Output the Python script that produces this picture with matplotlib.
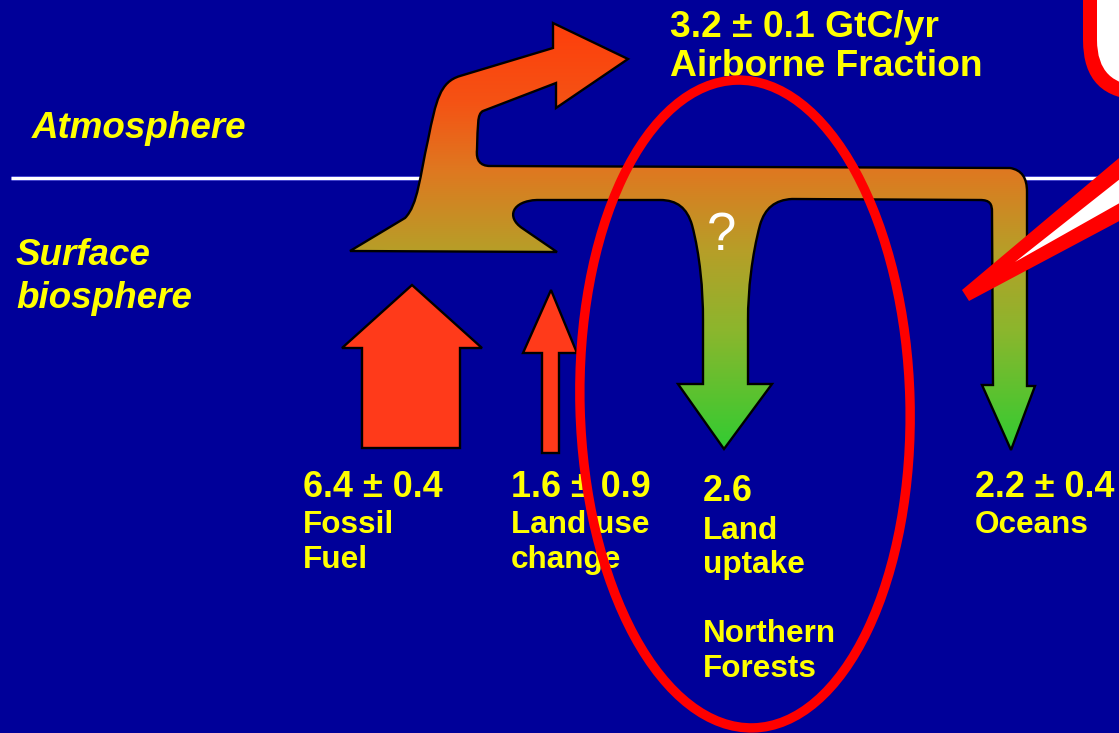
import numpy as np
import matplotlib
matplotlib.use("Agg")
import matplotlib.pyplot as plt
from matplotlib.path import Path
from matplotlib.patches import PathPatch, Polygon, Ellipse, FancyBboxPatch

# ---------------- data ----------------
flux_names = ["Fossil\nFuel", "Land use\nchange", "Land\nuptake\n\nNorthern\nForests", "Oceans"]
flux_values = [6.4, 1.6, 2.6, 2.2]
flux_errors = [0.4, 0.9, None, 0.4]
airborne_value = 3.2
airborne_error = 0.1
airborne_unit = "GtC/yr"
airborne_label = "Airborne Fraction"
layer_labels = ["Atmosphere", "Surface\nbiosphere"]

# ---------------- style / layout ----------------
BG = "#000099"
YEL = "#ffff00"
W, H = 1119, 733
plt.rcParams["font.family"] = ["Liberation Sans", "DejaVu Sans"]

fig = plt.figure(figsize=(W / 100, H / 100), dpi=100)
ax = fig.add_axes([0, 0, 1, 1])
ax.set_xlim(0, W)
ax.set_ylim(H, 0)
ax.set_aspect("auto")
ax.axis("off")
fig.patch.set_facecolor(BG)
ax.set_facecolor(BG)

# boundary line
ax.plot([11, W], [178, 178], color="white", lw=2.2, zorder=1, solid_capstyle="butt")
ax.plot([11, W], [178, 178], color="#8080ff", lw=3.6, zorder=0.9, alpha=0.5, solid_capstyle="butt")

# ---------------- main flow shape ----------------
M, L, C, Z = Path.MOVETO, Path.LINETO, Path.CURVE4, Path.CLOSEPOLY
segs = [
    (M, [(350, 251)]),
    (L, [(405, 218)]),
    (C, [(418, 205), (420, 175), (428, 140)]),
    (C, [(436, 100), (440, 82), (460, 76)]),
    (L, [(553, 48)]),
    (L, [(553, 23)]),
    (L, [(628, 59)]),
    (L, [(556, 108)]),
    (L, [(556, 83)]),
    (L, [(483, 111)]),
    (C, [(477, 114), (478, 125), (477, 150)]),
    (C, [(476, 160), (480, 166), (490, 166)]),
    (L, [(1010, 168)]),
    (C, [(1022, 170), (1027, 178), (1027, 192)]),
    (L, [(1027, 386)]),
    (L, [(1035, 386)]),
    (L, [(1011, 450)]),
    (L, [(982, 385)]),
    (L, [(993, 385)]),
    (L, [(992, 212)]),
    (C, [(992, 204), (990, 200), (980, 200)]),
    (L, [(792, 199)]),
    (C, [(775, 200), (765, 208), (760, 225)]),
    (C, [(752, 255), (748, 290), (748, 320)]),
    (L, [(748, 384)]),
    (L, [(772, 384)]),
    (L, [(724, 449)]),
    (L, [(678, 384)]),
    (L, [(703, 384)]),
    (L, [(703, 320)]),
    (C, [(703, 290), (700, 255), (692, 225)]),
    (C, [(687, 208), (677, 200), (660, 200)]),
    (L, [(537, 200)]),
    (C, [(512, 201), (506, 217), (522, 228)]),
    (L, [(557, 252)]),
    (L, [(350, 251)]),
    (Z, [(350, 251)]),
]
verts, codes = [], []
for code, pts in segs:
    for p in pts:
        verts.append(p)
        codes.append(code)
flow_path = Path(verts, codes)
flow_patch = PathPatch(flow_path, facecolor="none", edgecolor="black", lw=1.7, zorder=4)
ax.add_patch(flow_patch)

# vertical gradient clipped to the flow shape
gy = np.array([15, 100, 170, 250, 330, 455])
gc = np.array([
    [255, 60, 10],
    [245, 82, 20],
    [223, 120, 32],
    [183, 158, 40],
    [140, 182, 45],
    [45, 205, 50],
]) / 255.0
ys = np.linspace(15, 455, 400)
img = np.stack([np.interp(ys, gy, gc[:, k]) for k in range(3)], axis=-1)[:, None, :]
im = ax.imshow(img, extent=(340, 1045, 455, 15), origin="upper", aspect="auto",
               interpolation="bilinear", zorder=3)
clip = PathPatch(flow_path, facecolor="none", edgecolor="none", transform=ax.transData)
ax.add_patch(clip)
im.set_clip_path(clip)
ax.set_xlim(0, W)
ax.set_ylim(H, 0)

# ---------------- source arrows ----------------
ARROW = "#ff3a1a"
fossil = [(412, 285), (482, 348), (460, 348), (460, 448), (362, 448), (362, 348), (342, 348)]
landuse = [(551, 290), (577, 353), (559, 353), (559, 453), (542, 453), (542, 353), (523, 353)]
for pts in (fossil, landuse):
    ax.add_patch(Polygon(pts, closed=True, facecolor=ARROW, edgecolor="black", lw=1.7,
                         joinstyle="miter", zorder=4))

# "?" on land uptake branch
ax.text(722, 250, "?", color="white", fontsize=38, ha="center", va="baseline",
        family=["Liberation Sans", "DejaVu Sans"], zorder=6)

# ---------------- texts ----------------
def fmt(v, e):
    return f"{v:.1f}" if e is None else f"{v:.1f} \u00b1 {e:.1f}"

ax.text(670, 37, f"{fmt(airborne_value, airborne_error)} {airborne_unit}", color=YEL,
        fontsize=26.8, fontweight="bold", va="baseline", ha="left", zorder=6)
ax.text(670, 76, airborne_label, color=YEL, fontsize=26.8, fontweight="bold",
        va="baseline", ha="left", zorder=6)

ax.text(32, 138, layer_labels[0], color=YEL, fontsize=26.5, fontweight="bold",
        fontstyle="italic", va="baseline", ha="left", zorder=6)
sb = layer_labels[1].split("\n")
ax.text(16, 265, sb[0], color=YEL, fontsize=26.5, fontweight="bold",
        fontstyle="italic", va="baseline", ha="left", zorder=6)
ax.text(16, 308, sb[1], color=YEL, fontsize=26.5, fontweight="bold",
        fontstyle="italic", va="baseline", ha="left", zorder=6)

label_x = [303, 511, 703, 975]
value_base = [497, 497, 501, 497]
line_bases = [[533, 568], [533, 568], [539, 573, 608, 642, 677], [533]]
for x, v, e, name, vb, lbs in zip(label_x, flux_values, flux_errors, flux_names, value_base, line_bases):
    ax.text(x, vb, fmt(v, e), color=YEL, fontsize=25.8, fontweight="bold",
            va="baseline", ha="left", zorder=6)
    for line, yb in zip(name.split("\n"), lbs):
        if line:
            ax.text(x, yb, line, color=YEL, fontsize=22.7, fontweight="bold",
                    va="baseline", ha="left", zorder=6)

# ---------------- red ellipse ----------------
ax.add_patch(Ellipse((745, 404), 330, 648, angle=-1.5, facecolor="none", edgecolor="#ff0000",
                     lw=6.8, zorder=7))

# ---------------- callout (top right) ----------------
ax.add_patch(FancyBboxPatch((1083, -200), 250, 300, boxstyle="round,pad=0,rounding_size=60",
                            facecolor="#ff0000", edgecolor="none", zorder=8))
ax.add_patch(FancyBboxPatch((1097, -200), 250, 286, boxstyle="round,pad=0,rounding_size=46",
                            facecolor="white", edgecolor="none", zorder=8.1))
ax.add_patch(Polygon([(962, 290), (969, 301), (1125, 218), (1125, 153)], closed=True,
                     facecolor="#ff0000", edgecolor="none", zorder=8.2))
ax.add_patch(Polygon([(1015, 262), (1125, 200), (1125, 175)], closed=True,
                     facecolor="white", edgecolor="none", zorder=8.3))

fig.savefig("out.png", dpi=100, facecolor=BG)
